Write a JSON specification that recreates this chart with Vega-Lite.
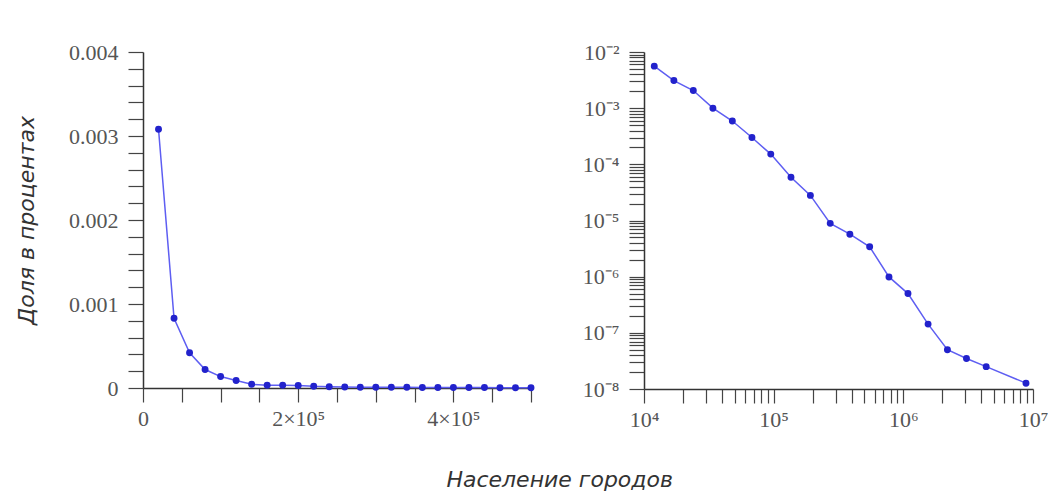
{
  "$schema": "https://vega.github.io/schema/vega-lite/v6.json",
  "background": "white",
  "padding": {"left": 15, "top": 41, "right": 0, "bottom": 0},
  "datasets": {
    "linear": [
      {"pop": 20000, "share": 0.00308},
      {"pop": 40000, "share": 0.00083},
      {"pop": 60000, "share": 0.00042},
      {"pop": 80000, "share": 0.00022},
      {"pop": 100000, "share": 0.000136},
      {"pop": 120000, "share": 0.00009},
      {"pop": 140000, "share": 0.000045},
      {"pop": 160000, "share": 0.000032},
      {"pop": 180000, "share": 0.000032},
      {"pop": 200000, "share": 0.00003},
      {"pop": 220000, "share": 0.00002},
      {"pop": 240000, "share": 0.000015},
      {"pop": 260000, "share": 0.000012},
      {"pop": 280000, "share": 0.00001},
      {"pop": 300000, "share": 0.00001},
      {"pop": 320000, "share": 0.000008},
      {"pop": 340000, "share": 0.000008},
      {"pop": 360000, "share": 0.000007},
      {"pop": 380000, "share": 0.000006},
      {"pop": 400000, "share": 0.000006},
      {"pop": 420000, "share": 0.000005},
      {"pop": 440000, "share": 0.000005},
      {"pop": 460000, "share": 0.000004},
      {"pop": 480000, "share": 0.000004},
      {"pop": 500000, "share": 0.000003}
    ],
    "loglog": [
      {"pop": 12000, "share": 0.0056},
      {"pop": 17000, "share": 0.0031},
      {"pop": 24000, "share": 0.00206},
      {"pop": 34000, "share": 0.001},
      {"pop": 48000, "share": 0.00059},
      {"pop": 68000, "share": 0.0003},
      {"pop": 95000, "share": 0.000152},
      {"pop": 136000, "share": 0.000059},
      {"pop": 192000, "share": 0.000028},
      {"pop": 273000, "share": 0.0000089},
      {"pop": 387000, "share": 0.0000057},
      {"pop": 550000, "share": 0.0000034},
      {"pop": 775000, "share": 0.00000099},
      {"pop": 1086000, "share": 0.0000005},
      {"pop": 1552000, "share": 0.000000143},
      {"pop": 2188000, "share": 0.00000005},
      {"pop": 3069000, "share": 0.000000035},
      {"pop": 4355000, "share": 0.000000025},
      {"pop": 8830000, "share": 0.0000000127}
    ]
  },
  "config": {
    "view": {"stroke": null},
    "axis": {
      "grid": false,
      "labelFont": "Liberation Serif",
      "labelFontSize": 22,
      "labelColor": "#555555",
      "domainColor": "#333333",
      "domainWidth": 1.5,
      "tickColor": "#444444",
      "tickWidth": 1.2,
      "labelOverlap": false,
      "labelBound": false,
      "labelFlush": false,
      "titleFont": "DejaVu Sans",
      "titleFontStyle": "italic",
      "titleFontWeight": "normal",
      "titleFontSize": 22,
      "titleColor": "#333333"
    }
  },
  "title": {
    "text": "Население городов",
    "orient": "bottom",
    "anchor": "middle",
    "offset": 40,
    "dx": 28,
    "font": "DejaVu Sans",
    "fontStyle": "italic",
    "fontWeight": "normal",
    "fontSize": 22,
    "color": "#333333"
  },
  "spacing": 47,
  "hconcat": [
    {
      "width": 388,
      "height": 336,
      "data": {"name": "linear"},
      "encoding": {
        "x": {
          "field": "pop",
          "type": "quantitative",
          "scale": {"domain": [0, 500000], "nice": false},
          "axis": {
            "title": null,
            "values": [0, 50000, 100000, 150000, 200000, 250000, 300000, 350000, 400000, 450000, 500000],
            "labelExpr": "datum.value == 0 ? '0' : datum.value == 200000 ? '2×10⁵' : datum.value == 400000 ? '4×10⁵' : ''",
            "tickSize": 14,
            "labelPadding": 6,
            "encode": {"ticks": {"update": {"y2": {"signal": "datum.value % 200000 == 0 ? 14 : 6"}}}}
          }
        },
        "y": {
          "field": "share",
          "type": "quantitative",
          "scale": {"domain": [0, 0.004], "nice": false, "zero": false},
          "axis": {
            "title": "Доля в процентах",
            "titlePadding": 30,
            "values": [0, 0.0002, 0.0004, 0.0006, 0.0008, 0.001, 0.0012, 0.0014, 0.0016, 0.0018, 0.002, 0.0022, 0.0024, 0.0026, 0.0028, 0.003, 0.0032, 0.0034, 0.0036, 0.0038, 0.004],
            "labelExpr": "abs(datum.value*1000 - round(datum.value*1000)) < 0.000001 ? (datum.value == 0 ? '0' : format(datum.value, '.3f')) : ''",
            "tickSize": 15,
            "labelPadding": 10,
            "encode": {"ticks": {"update": {"x2": {"signal": "abs(datum.value*1000 - round(datum.value*1000)) < 0.000001 ? -15 : -7"}}}}
          }
        }
      },
      "layer": [
        {"mark": {"type": "line", "color": "#5e5ef2", "strokeWidth": 1.5}},
        {"mark": {"type": "point", "filled": true, "color": "#2222cc", "size": 48, "opacity": 1}}
      ]
    },
    {
      "width": 389,
      "height": 337,
      "data": {"name": "loglog"},
      "encoding": {
        "x": {
          "field": "pop",
          "type": "quantitative",
          "scale": {"type": "log", "domain": [10000, 10000000], "nice": false},
          "axis": {
            "title": null,
            "values": [10000, 20000, 30000, 40000, 50000, 60000, 70000, 80000, 90000, 100000, 200000, 300000, 400000, 500000, 600000, 700000, 800000, 900000, 1000000, 2000000, 3000000, 4000000, 5000000, 6000000, 7000000, 8000000, 9000000, 10000000],
            "labelExpr": "abs(log(datum.value)/LN10 - round(log(datum.value)/LN10)) < 0.001 ? '10' + (round(log(datum.value)/LN10) < 0 ? '⁻' : '') + ['⁰','¹','²','³','⁴','⁵','⁶','⁷','⁸','⁹'][abs(round(log(datum.value)/LN10))] : ''",
            "tickSize": 14,
            "labelPadding": 6,
            "encode": {"ticks": {"update": {"y2": {"signal": "abs(log(datum.value)/LN10 - round(log(datum.value)/LN10)) < 0.001 ? 14 : 6"}}}}
          }
        },
        "y": {
          "field": "share",
          "type": "quantitative",
          "scale": {"type": "log", "domain": [0.00000001, 0.01], "nice": false},
          "axis": {
            "title": null,
            "values": [0.00000001, 0.00000002, 0.00000003, 0.00000004, 0.00000005, 0.00000006, 0.00000007, 0.00000008, 0.00000009, 0.0000001, 0.0000002, 0.0000003, 0.0000004, 0.0000005, 0.0000006, 0.0000007, 0.0000008, 0.0000009, 0.000001, 0.000002, 0.000003, 0.000004, 0.000005, 0.000006, 0.000007, 0.000008, 0.000009, 0.00001, 0.00002, 0.00003, 0.00004, 0.00005, 0.00006, 0.00007, 0.00008, 0.00009, 0.0001, 0.0002, 0.0003, 0.0004, 0.0005, 0.0006, 0.0007, 0.0008, 0.0009, 0.001, 0.002, 0.003, 0.004, 0.005, 0.006, 0.007, 0.008, 0.009, 0.01],
            "labelExpr": "abs(log(datum.value)/LN10 - round(log(datum.value)/LN10)) < 0.001 ? '10' + (round(log(datum.value)/LN10) < 0 ? '⁻' : '') + ['⁰','¹','²','³','⁴','⁵','⁶','⁷','⁸','⁹'][abs(round(log(datum.value)/LN10))] : ''",
            "tickSize": 15,
            "labelPadding": 10,
            "encode": {"ticks": {"update": {"x2": {"signal": "abs(log(datum.value)/LN10 - round(log(datum.value)/LN10)) < 0.001 ? -15 : -7"}}}}
          }
        }
      },
      "layer": [
        {"mark": {"type": "line", "color": "#5e5ef2", "strokeWidth": 1.5}},
        {"mark": {"type": "point", "filled": true, "color": "#2222cc", "size": 48, "opacity": 1}}
      ]
    }
  ]
}
